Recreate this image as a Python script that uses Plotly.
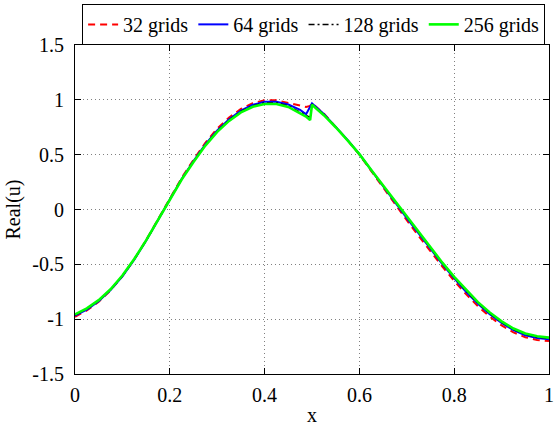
import plotly.graph_objects as go

# x positions (shared sampling of the curves)
x_vals = [0, .025, .05, .075, .1, .125, .15, .175, .2, .225, .25, .275, .3, .325, .35,
          .375, .4, .425, .45, .475, .4875, .496, .5, .525, .55, .575, .6, .625, .65,
          .675, .7, .725, .75, .775, .8, .825, .85, .875, .9, .925, .95, .975, 1]

u_32 = [-0.978, -0.92, -0.842, -0.737, -0.608, -0.454, -0.28, -0.091, 0.103, 0.288, 0.453,
        0.608, 0.738, 0.838, 0.917, 0.97, 0.997, 0.996, 0.972, 0.945, 0.935, 0.945, 0.968,
        0.875, 0.758, 0.632, 0.5, 0.348, 0.2, 0.05, -0.098, -0.242, -0.382, -0.52, -0.65,
        -0.772, -0.882, -0.977, -1.057, -1.12, -1.165, -1.19, -1.2]

u_64 = [-0.968, -0.912, -0.837, -0.735, -0.609, -0.457, -0.285, -0.097, 0.096, 0.278, 0.441,
        0.593, 0.721, 0.823, 0.902, 0.955, 0.982, 0.982, 0.957, 0.908, 0.868, 0.935, 0.968,
        0.872, 0.758, 0.635, 0.505, 0.355, 0.212, 0.066, -0.08, -0.222, -0.362, -0.498,
        -0.628, -0.75, -0.86, -0.955, -1.035, -1.1, -1.146, -1.172, -1.182]

u_128 = [-0.962, -0.907, -0.832, -0.731, -0.606, -0.455, -0.284, -0.097, 0.095, 0.276, 0.437,
         0.588, 0.715, 0.816, 0.894, 0.946, 0.972, 0.972, 0.945, 0.892, 0.858, 0.84, 0.962,
         0.866, 0.754, 0.632, 0.505, 0.357, 0.216, 0.07, -0.075, -0.216, -0.356, -0.492,
         -0.622, -0.743, -0.853, -0.948, -1.028, -1.093, -1.138, -1.164, -1.175]

u_256 = [-0.957, -0.902, -0.827, -0.727, -0.602, -0.452, -0.282, -0.097, 0.093, 0.273, 0.433,
         0.583, 0.708, 0.808, 0.885, 0.937, 0.962, 0.962, 0.935, 0.88, 0.848, 0.815, 0.955,
         0.86, 0.75, 0.63, 0.505, 0.36, 0.22, 0.075, -0.07, -0.21, -0.35, -0.485, -0.615,
         -0.735, -0.845, -0.94, -1.02, -1.085, -1.13, -1.155, -1.168]

series_names = ["32 grids", "64 grids", "128 grids", "256 grids"]

x_ticks = [0, 0.2, 0.4, 0.6, 0.8, 1]
x_ticktext = ["0", "0.2", "0.4", "0.6", "0.8", "1"]
y_ticks = [-1.5, -1, -0.5, 0, 0.5, 1, 1.5]
y_ticktext = ["-1.5", "-1", "-0.5", "0", "0.5", "1", "1.5"]

FONT = "Liberation Serif, Nimbus Roman, FreeSerif, DejaVu Serif"

fig = go.Figure()
fig.add_trace(go.Scatter(x=x_vals, y=u_32, mode="lines", name=series_names[0],
                         line=dict(color="#ff0000", width=2, dash="7px,5px")))
fig.add_trace(go.Scatter(x=x_vals, y=u_64, mode="lines", name=series_names[1],
                         line=dict(color="#0000ff", width=2)))
fig.add_trace(go.Scatter(x=x_vals, y=u_128, mode="lines", name=series_names[2],
                         line=dict(color="#000000", width=1.5, dash="6px,3px,2px,3px")))
fig.add_trace(go.Scatter(x=x_vals, y=u_256, mode="lines", name=series_names[3],
                         line=dict(color="#00ff00", width=2.6)))

axis_common = dict(
    showline=True, linecolor="black", linewidth=1.2, mirror="ticks",
    ticks="inside", ticklen=6, tickcolor="black", tickwidth=1,
    showgrid=True, gridcolor="#808080", gridwidth=1, griddash="1px,3px",
    zeroline=False, tickfont=dict(family=FONT, size=20, color="black"),
    ticklabeloverflow="allow",
)

fig.update_xaxes(range=[0, 1], tickvals=x_ticks, ticktext=x_ticktext, ticklabelstandoff=3,
                 title=dict(text="x", font=dict(family=FONT, size=20, color="black"), standoff=3),
                 **axis_common)
fig.update_yaxes(range=[-1.5, 1.5], tickvals=y_ticks, ticktext=y_ticktext, ticklabelstandoff=6,
                 title=dict(text="Real(u)", font=dict(family=FONT, size=20, color="black"), standoff=6),
                 **axis_common)

fig.update_layout(
    width=557, height=426,
    margin=dict(l=75, r=3, t=45, b=46),
    paper_bgcolor="white", plot_bgcolor="white",
    font=dict(family=FONT, size=20, color="black"),
    showlegend=True,
    legend=dict(orientation="h", x=0.015, y=1.125, xanchor="left", yanchor="top",
                bgcolor="white", bordercolor="black", borderwidth=1,
                font=dict(family=FONT, size=20, color="black"),
                itemwidth=30, tracegroupgap=0),
)

fig.write_html("out.html")
